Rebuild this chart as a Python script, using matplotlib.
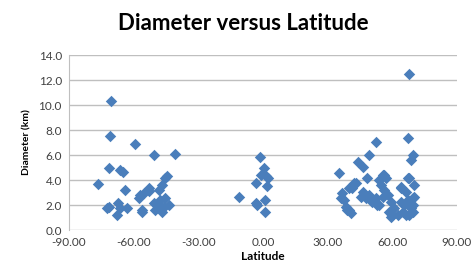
import matplotlib
matplotlib.use('Agg')
import matplotlib.pyplot as plt

# latitude (deg) and crater diameter (km), three groups
lat_south = [-70.6, -70.9, -59.2, -50.7, -40.6, -71.3, -66.2, -65.0, -76.3, -63.9,
             -45.3, -46.8, -48.4, -53.0, -55.3, -57.7, -56.9, -71.6, -72.4, -67.0,
             -66.2, -67.8, -63.1, -56.1, -50.7, -48.4, -46.0, -43.7, -45.3, -47.6,
             -50.0, -46.8, -44.5, -53.0, -56.0]
diam_south = [10.35, 7.5, 6.9, 6.0, 6.05, 4.96, 4.8, 4.67, 3.68, 3.2,
              4.13, 3.6, 3.2, 3.33, 2.93, 2.53, 2.8, 1.87, 1.73, 2.13,
              1.73, 1.2, 1.73, 1.6, 2.13, 2.0, 1.87, 2.0, 2.53, 2.4,
              1.6, 1.47, 4.3, 3.1, 1.47]

lat_eq = [-1.5, 0.5, -1.0, 1.5, 2.3, -3.4, 2.0, -11.2, -3.4, -2.6, 0.9, 1.2]
diam_eq = [5.87, 4.93, 4.4, 4.3, 4.2, 3.8, 3.5, 2.67, 2.2, 2.0, 2.4, 1.41]

lat_north = [67.9, 67.4, 52.4, 49.3, 69.5, 68.7, 43.9, 46.2, 56.3, 67.4,
             70.2, 64.0, 43.1, 41.5, 59.5, 53.0, 35.3, 48.5, 42.3, 40.0,
             36.9, 36.1, 37.7, 38.4, 39.2, 46.2, 45.4, 47.8, 49.3, 50.8,
             52.4, 54.0, 55.5, 57.0, 54.0, 54.7, 56.3, 57.8, 55.5, 59.4,
             60.9, 62.5, 58.6, 60.1, 64.0, 66.4, 67.9, 64.0, 65.6, 67.1,
             68.7, 67.9, 66.4, 64.8, 70.2, 69.5, 69.5, 69.5, 40.0, 40.8]
diam_north = [12.5, 7.33, 7.07, 6.0, 6.0, 5.6, 5.47, 5.07, 4.4, 4.2,
              3.6, 3.47, 3.73, 3.33, 1.05, 2.0, 4.6, 4.13, 3.73, 3.33,
              2.93, 2.53, 2.4, 1.87, 1.6, 3.07, 2.67, 2.53, 2.8, 2.27,
              2.53, 2.0, 4.4, 4.13, 4.0, 3.6, 3.2, 2.8, 2.67, 2.27,
              1.73, 1.2, 1.47, 1.2, 3.33, 3.07, 4.13, 2.27, 2.0, 2.4,
              1.73, 1.2, 1.2, 1.47, 2.67, 2.53, 2.0, 1.47, 1.6, 1.33]

lat = lat_south + lat_eq + lat_north
diam = diam_south + diam_eq + diam_north

xticks = [-90, -60, -30, 0, 30, 60, 90]
yticks = [0, 2, 4, 6, 8, 10, 12, 14]

plt.rcParams['font.family'] = ['Lato', 'DejaVu Sans']

fig = plt.figure(figsize=(4.75, 2.73), dpi=100)
ax = fig.add_axes([0.145, 0.1575, 0.817, 0.641])

ax.scatter(lat, diam, marker='D', s=34, color='#4A7EBB', linewidths=0, zorder=3)

ax.set_xlim(-90, 90)
ax.set_ylim(0, 14)
ax.set_xticks(xticks)
ax.set_xticklabels(['%.2f' % t for t in xticks])
ax.set_yticks(yticks)
ax.set_yticklabels(['%.1f' % t for t in yticks])
ax.tick_params(length=0, labelsize=8.5, colors='#404040', pad=5)

ax.grid(axis='y', color='#BFBFBF', linewidth=1)
ax.set_axisbelow(True)
for side in ['top', 'right', 'bottom']:
    ax.spines[side].set_visible(False)
ax.spines['left'].set_color('#BFBFBF')

ax.set_xlabel('Latitude', fontsize=8.5, fontweight='bold', labelpad=2)
ax.set_ylabel('Diameter (km)', fontsize=7.5, fontweight='bold', labelpad=5)
fig.text(0.512, 0.915, 'Diameter versus Latitude', ha='center', va='center',
         fontsize=16, fontweight='bold')

fig.savefig('out.png', dpi=100)
